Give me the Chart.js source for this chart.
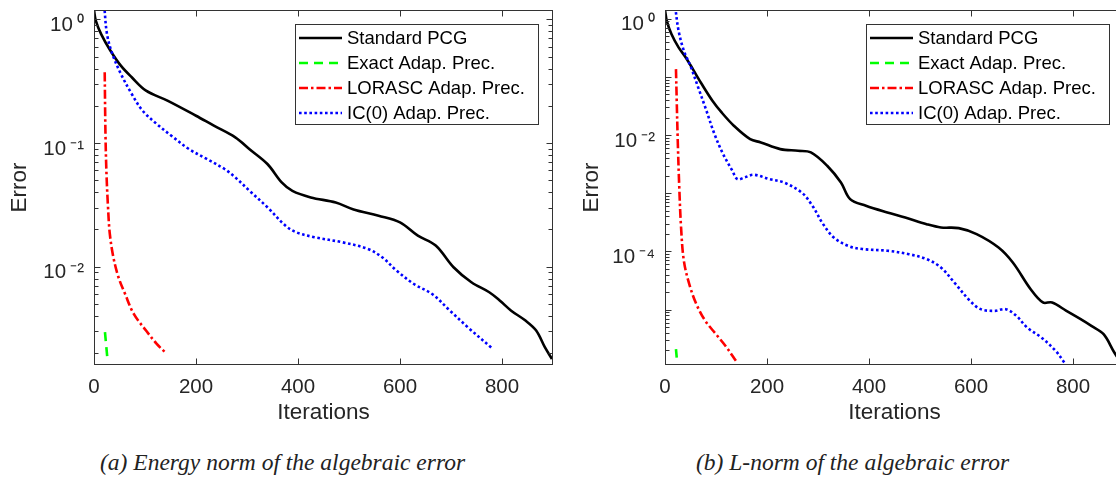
<!DOCTYPE html>
<html>
<head>
<meta charset="utf-8">
<script src="https://cdn.jsdelivr.net/npm/chart.js@4.4.1/dist/chart.umd.min.js"></script>
<style>
  html, body { margin: 0; padding: 0; background: #fff; overflow: hidden; }
  body { width: 1116px; height: 479px; position: relative; }
  .panel { position: absolute; top: 0; height: 432px; }
  #panelA { left: 0; width: 560px; }
  #panelB { left: 560px; width: 570px; }
  .caption { position: absolute; top: 449px; font: italic 23.5px 'Liberation Serif', serif; color: #222; white-space: nowrap; }
  #capA { left: 100px; }
  #capB { left: 696px; }
</style>
</head>
<body>
<div class="panel" id="panelA"><canvas id="energyChart"></canvas></div>
<div class="panel" id="panelB"><canvas id="lnormChart"></canvas></div>
<div class="caption" id="capA">(a) Energy norm of the algebraic error</div>
<div class="caption" id="capB">(b) L-norm of the algebraic error</div>
<script>
// series names, shared by both panels
const seriesNames = ['Standard PCG', 'Exact Adap. Prec.', 'LORASC Adap. Prec.', 'IC(0) Adap. Prec.'];
const iterTicks = [0, 200, 400, 600, 800];

// (a) energy norm: [iteration, error]
const pcgEnergy = [[0,1.19],[3.5,0.975],[14,0.76],[32,0.56],[53,0.42],[74,0.34],[102,0.265],[144,0.22],[200,0.166],[235,0.138],[277,0.111],[305,0.089],[340,0.0676],[368,0.048],[389,0.041],[425,0.0363],[474,0.033],[509,0.029],[558,0.0258],[600,0.0228],[635,0.0178],[670,0.0148],[705,0.00988],[740,0.00747],[775,0.0062],[796,0.0053],[818,0.0044],[846,0.00366],[867,0.00304],[884,0.00223],[898,0.00179]];
const exactEnergy = [[21.5,0.00295],[26,0.00186]];
const lorascEnergy = [[21,0.373],[22.5,0.118],[24.5,0.0561],[27.5,0.0302],[31,0.0184],[38,0.0119],[48,0.0082],[61,0.006],[78,0.00414],[102,0.00304],[123,0.00237],[141,0.002]];
const ic0Energy = [[20,1.3],[25.5,0.76],[36,0.525],[53,0.36],[74,0.249],[95,0.183],[123,0.1425],[151,0.115],[186,0.0894],[221,0.0743],[256,0.0616],[277,0.0527],[305,0.041],[340,0.0302],[375,0.0215],[396,0.019],[432,0.0173],[488,0.0157],[537,0.0139],[565,0.0119],[593,0.0093],[628,0.0072],[663,0.006],[698,0.0044],[733,0.00323],[782,0.00216]];
const energyRange = [1.6e-3, 1.19];
const energyTickValues = [1e-2, 1e-1, 1];
const energyTickLabels = ['10\u2009⁻²', '10\u2009⁻¹', '10\u2009⁰'];

// (b) L-norm: [iteration, error]
const pcgLnorm = [[0,1.41],[3.5,0.92],[12.6,0.544],[26.6,0.321],[40.6,0.216],[54.6,0.136],[72,0.0753],[93,0.0389],[111,0.0245],[135,0.0145],[167,0.00853],[188,0.00748],[226,0.00574],[261,0.00538],[286,0.00504],[318,0.00297],[345,0.00153],[363,0.000794],[394,0.00061],[436,0.000468],[471,0.000384],[513,0.000295],[541,0.000259],[576,0.000252],[611,0.000199],[654,0.000117],[682,6.46e-5],[717,2.25e-5],[741,1.33e-5],[759,1.33e-5],[787,9.55e-6],[815,6.87e-6],[836,5.27e-6],[860,3.79e-6],[881,1.84e-6],[898,1.1e-6]];
const exactLnorm = [[21.5,2.1e-6],[23,1.5e-6]];
const lorascLnorm = [[21.5,0.136],[23,0.039],[25,0.008],[28,0.00126],[31.5,0.000259],[37,6.9e-5],[47.6,2.74e-5],[61.6,1.24e-5],[79,6.43e-6],[100,3.79e-6],[121,2.24e-6],[139,1.32e-6]];
const ic0Lnorm = [[20,1.6],[26.6,0.622],[37,0.282],[51,0.146],[65,0.066],[79,0.0299],[97,0.0104],[114,0.00471],[132,0.00244],[142,0.00175],[156,0.00187],[174,0.00208],[205,0.00175],[233,0.00153],[268,0.00103],[289,0.00061],[310,0.000295],[331,0.000174],[359,0.000125],[387,0.00011],[436,0.000103],[478,8.99e-5],[513,7.38e-5],[541,5.31e-5],[570,2.74e-5],[598,1.42e-5],[619,1.02e-5],[647,9.55e-6],[668,1.02e-5],[689,7.84e-6],[710,4.93e-6],[738,3.32e-6],[766,1.96e-6],[783,1.24e-6]];
const lnormRange = [1.12e-6, 1.41];
const lnormTickValues = [1e-4, 1e-2, 1];
const lnormTickLabels = ['10\u2009⁻⁴', '10\u2009⁻²', '10\u2009⁰'];

// line look per series
const lineColors = ['#000000', '#00ff00', '#ff0000', '#0000ff'];
const lineDashes = [[], [9, 6], [9, 3, 2.5, 3], [2.6, 2.6]];

const axisColor = '#262626';
const sans = "'Liberation Sans', Arial, sans-serif";

// box around the axes with inward ticks (matlab style)
const boxPlugin = {
  id: 'boxAxes',
  afterDatasetsDraw(chart) {
    const {ctx, chartArea: a, scales: {x, y}} = chart;
    ctx.save();
    ctx.strokeStyle = '#333333';
    ctx.lineWidth = 1;
    ctx.setLineDash([]);
    const L = Math.round(a.left) + 0.5, R = Math.round(a.right) - 0.5;
    const T = Math.round(a.top) + 0.5, B = Math.round(a.bottom) - 0.5;
    ctx.strokeRect(L, T, R - L, B - T);
    ctx.beginPath();
    x.ticks.forEach(t => {
      const px = Math.round(x.getPixelForValue(t.value)) + 0.5;
      ctx.moveTo(px, B); ctx.lineTo(px, B - 6);
      ctx.moveTo(px, T); ctx.lineTo(px, T + 6);
    });
    const lo = Math.floor(Math.log10(y.min)), hi = Math.ceil(Math.log10(y.max));
    for (let e = lo; e <= hi; e++) {
      for (let m = 1; m <= 9; m++) {
        const v = m * Math.pow(10, e);
        if (v < y.min || v > y.max) continue;
        const py = Math.round(y.getPixelForValue(v)) + 0.5;
        const len = m === 1 ? 6 : 4;
        ctx.moveTo(L, py); ctx.lineTo(L + len, py);
        ctx.moveTo(R, py); ctx.lineTo(R - len, py);
      }
    }
    ctx.stroke();
    ctx.restore();
  },
  afterDraw(chart) {
    // legend box in the upper right corner of the axes
    const {ctx, chartArea: a} = chart;
    const w = 243, h = 100;
    const x0 = a.right - 15 - w, y0 = a.top + 14;
    ctx.save();
    ctx.fillStyle = '#fff';
    ctx.fillRect(x0, y0, w, h);
    ctx.strokeStyle = '#333333';
    ctx.lineWidth = 1;
    ctx.strokeRect(Math.round(x0) + 0.5, Math.round(y0) + 0.5, w, h);
    ctx.font = '18.5px ' + sans;
    ctx.textBaseline = 'middle';
    chart.data.datasets.forEach((ds, i) => {
      const cy = y0 + 14 + i * 25;
      ctx.beginPath();
      ctx.setLineDash(ds.borderDash);
      ctx.strokeStyle = ds.borderColor;
      ctx.lineWidth = ds.borderWidth;
      ctx.moveTo(x0 + 4, cy); ctx.lineTo(x0 + 47, cy);
      ctx.stroke();
      ctx.setLineDash([]);
      ctx.fillStyle = '#000';
      ctx.fillText(ds.label, x0 + 52, cy + 1);
    });
    ctx.restore();
  }
};

function toPoints(pairs) {
  return pairs.map(p => ({x: p[0], y: p[1]}));
}

function makeChart(id, series, range, tickValues, tickLabels, yWidth, titlePad, rightPad) {
  const datasets = series.map((s, i) => ({
    label: seriesNames[i],
    data: toPoints(s),
    borderColor: lineColors[i],
    borderDash: lineDashes[i],
    borderWidth: 2.6,
    pointRadius: 0,
    tension: 0.35,
    fill: false,
    clip: 0,
    order: 4 - i
  }));
  return new Chart(document.getElementById(id), {
    type: 'line',
    data: {datasets},
    plugins: [boxPlugin],
    options: {
      animation: false,
      responsive: true,
      maintainAspectRatio: false,
      layout: {autoPadding: false, padding: {left: 0, top: 10, right: rightPad, bottom: 0}},
      plugins: {legend: {display: false}, tooltip: {enabled: false}},
      scales: {
        x: {
          type: 'linear',
          min: 0,
          max: 900,
          grid: {display: false, drawTicks: false},
          border: {display: false},
          afterBuildTicks: s => { s.ticks = iterTicks.map(v => ({value: v})); },
          afterFit: s => { s.height = 67; s.paddingLeft = s.paddingRight = 0; },
          ticks: {color: axisColor, font: {family: sans, size: 20.5}, padding: 10, maxRotation: 0},
          title: {display: true, text: 'Iterations', color: axisColor, font: {family: sans, size: 22.5}, padding: {top: 0, bottom: 5.5}}
        },
        y: {
          type: 'logarithmic',
          min: range[0],
          max: range[1],
          grid: {display: false, drawTicks: false},
          border: {display: false},
          afterBuildTicks: s => { s.ticks = tickValues.map(v => ({value: v, major: true})); },
          afterFit: s => { s.width = yWidth; s.paddingTop = s.paddingBottom = 0; },
          ticks: {
            color: axisColor,
            font: {family: sans, size: 20.5},
            padding: 10,
            labelOffset: 6,
            callback: (v, i) => tickLabels[i]
          },
          title: {display: true, text: 'Error', color: axisColor, font: {family: sans, size: 22.5}, padding: {top: titlePad, bottom: 0}}
        }
      }
    }
  });
}

makeChart('energyChart', [pcgEnergy, exactEnergy, lorascEnergy, ic0Energy],
  energyRange, energyTickValues, energyTickLabels, 94, 6.5, 7);
makeChart('lnormChart', [pcgLnorm, exactLnorm, lorascLnorm, ic0Lnorm],
  lnormRange, lnormTickValues, lnormTickLabels, 105, 18.5, 6);
</script>
</body>
</html>
